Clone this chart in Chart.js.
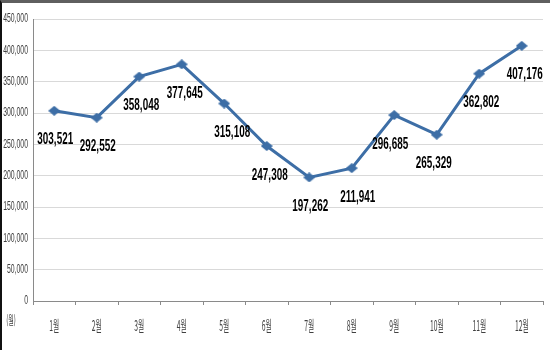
<!DOCTYPE html>
<html lang="ko">
<head>
<meta charset="UTF-8">
<title>월별 추이</title>
<style>
  html, body { margin: 0; background: #fff; overflow: hidden; }
  .chartBox { position: relative; width: 550px; height: 350px; overflow: hidden; }
  .chartBox canvas { position: absolute; left: 0; top: 0; }
  .frame { position: absolute; left: 0; top: 0; right: 0; bottom: 0; border-top: 3px solid #5f5f5f; border-left: 2px solid #111; pointer-events: none; }
</style>
</head>
<body>
<div class="chartBox">
  <canvas id="myChart" width="550" height="350"></canvas>
  <div class="frame"></div>
</div>
<script src="https://cdn.jsdelivr.net/npm/chart.js"></script>
<script>
const months = ['1월', '2월', '3월', '4월', '5월', '6월', '7월', '8월', '9월', '10월', '11월', '12월'];
const counts = [303521, 292552, 358048, 377645, 315108, 247308, 197262, 211941, 296685, 265329, 362802, 407176];
const yMax = 450000;
const yStep = 50000;
const unitLabel = '(월)';

const lineColor = '#3d6ea6';

// diamond marker, a little wider than tall
const marker = document.createElement('canvas');
marker.width = 12;
marker.height = 10;
const mctx = marker.getContext('2d');
mctx.fillStyle = lineColor;
mctx.beginPath();
mctx.moveTo(6, 0);
mctx.lineTo(12, 5);
mctx.lineTo(6, 10);
mctx.lineTo(0, 5);
mctx.closePath();
mctx.fill();

// all text on this chart is squeezed horizontally
function narrowText(ctx, text, x, y, font, color, sx, align) {
    ctx.save();
    ctx.font = font;
    ctx.fillStyle = color;
    ctx.textBaseline = 'middle';
    ctx.textAlign = align || 'center';
    ctx.translate(x, y);
    ctx.scale(sx, 1);
    ctx.fillText(text, 0, 0);
    ctx.restore();
}

// small nudges for value labels (px)
const labelShift = [1, 1, 2, 3, 8, 3, 1, 6, -4, -3, 2, 3];

const narrowLabels = {
    id: 'narrowLabels',
    afterDraw(chart) {
        const ctx = chart.ctx;
        const xs = chart.scales.x;
        const ys = chart.scales.y;

        ys.ticks.forEach(t => {
            narrowText(ctx, t.value.toLocaleString('en-US'), xs.left - 5, ys.getPixelForValue(t.value),
                '12.5px "Liberation Sans", Arial, sans-serif', '#404040', 0.55, 'right');
        });

        months.forEach((m, i) => {
            narrowText(ctx, m, xs.getPixelForTick(i), xs.bottom + 20,
                '15px "Noto Sans CJK KR", sans-serif', '#404040', 0.45);
        });
        narrowText(ctx, unitLabel, 11, xs.bottom + 15, '12px "Noto Sans CJK KR", sans-serif', '#404040', 0.5);

        const meta = chart.getDatasetMeta(0);
        meta.data.forEach((pt, i) => {
            narrowText(ctx, counts[i].toLocaleString('en-US'), pt.x + labelShift[i], pt.y + 29,
                'bold 16.5px "Liberation Sans", Arial, sans-serif', '#000', 0.6);
        });
    }
};

const ctx = document.getElementById('myChart').getContext('2d');
const myChart = new Chart(ctx, {
    type: 'line',
    data: {
        labels: months,
        datasets: [{
            data: counts,
            borderColor: lineColor,
            backgroundColor: lineColor,
            borderWidth: 3,
            pointStyle: marker,
            tension: 0
        }]
    },
    options: {
        responsive: false,
        devicePixelRatio: 1,
        animation: false,
        layout: { padding: { left: 33, right: 7, top: 19, bottom: 45 } },
        plugins: {
            legend: { display: false },
            tooltip: { enabled: false }
        },
        scales: {
            x: {
                offset: true,
                grid: { offset: true, drawOnChartArea: false, drawTicks: true, tickLength: 4, color: '#8a8a8a' },
                border: { color: '#8a8a8a' },
                ticks: { display: false }
            },
            y: {
                min: 0,
                max: yMax,
                ticks: { stepSize: yStep, display: false },
                grid: { color: '#d9d9d9', drawTicks: false },
                border: { color: '#8a8a8a' }
            }
        }
    },
    plugins: [narrowLabels]
});
</script>
</body>
</html>
